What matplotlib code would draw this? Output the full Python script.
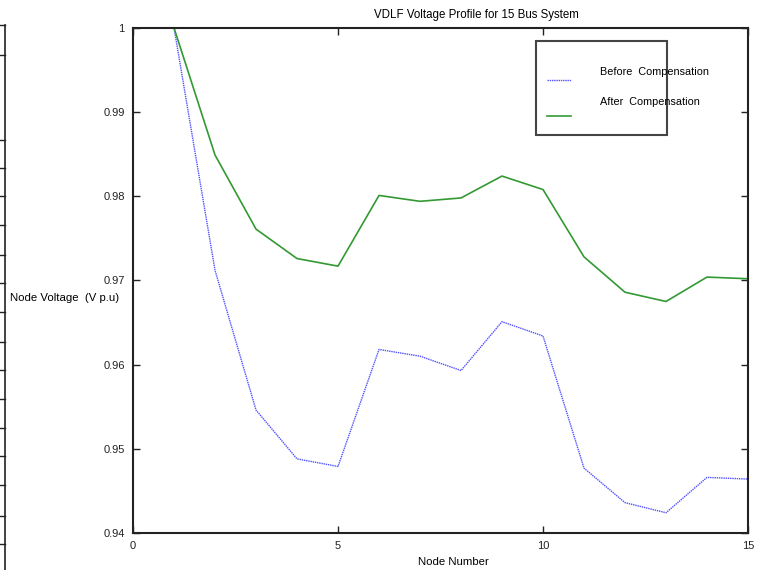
import matplotlib.pyplot as plt
from matplotlib.lines import Line2D
from matplotlib.patches import Rectangle

plt.rcParams['font.family'] = ['Liberation Sans', 'DejaVu Sans']

nodes = list(range(1, 16))
before = [1.0, 0.9712, 0.9546, 0.9488, 0.9479, 0.9618, 0.9610, 0.9593,
          0.9651, 0.9634, 0.9477, 0.9436, 0.9424, 0.9466, 0.9464]
after = [1.0, 0.9849, 0.9761, 0.9726, 0.9717, 0.9801, 0.9794, 0.9798,
         0.9824, 0.9808, 0.9728, 0.9686, 0.9675, 0.9704, 0.9702]
xticks = [0, 5, 10, 15]
yticks = [0.94, 0.95, 0.96, 0.97, 0.98, 0.99, 1.0]
ytick_labels = ["0.94", "0.95", "0.96", "0.97", "0.98", "0.99", "1"]

fig = plt.figure(figsize=(7.58, 5.70), dpi=100)
ax = fig.add_axes([0.1755, 0.065, 0.8113, 0.886])

ax.plot(nodes, before, color="#5050ff", linestyle=(0, (1, 0.6)), linewidth=1.0)
ax.plot(nodes, after, color="#339933", linestyle="-", linewidth=1.2)

ax.set_xlim(0, 15)
ax.set_ylim(0.94, 1.0)
ax.set_xticks(xticks)
ax.set_yticks(yticks)
ax.set_yticklabels(ytick_labels)
ax.tick_params(direction="in", length=5, width=1, top=True, right=True,
               labelsize=8, pad=6, colors="#222222")
for s in ax.spines.values():
    s.set_linewidth(1.5)
    s.set_color("#222222")

fig.text(0.629, 0.973, "VDLF Voltage Profile for 15 Bus System", ha="center",
         va="center", fontsize=8.3)
fig.text(0.598, 0.014, "Node Number", ha="center", va="center", fontsize=8.2)
fig.text(0.013, 0.477, "Node Voltage  (V p.u)", ha="left", va="center", fontsize=8.2)

# legend box drawn by hand (handles sit below the labels in the original)
ax.add_patch(Rectangle((0.655, 0.788), 0.213, 0.187, transform=ax.transAxes,
                       fill=False, edgecolor="#444444", linewidth=1.5))
ax.add_line(Line2D([0.673, 0.713], [0.897, 0.897], transform=ax.transAxes,
                   color="#5050ff", linestyle=(0, (1, 0.6)), linewidth=1.0))
ax.add_line(Line2D([0.673, 0.713], [0.826, 0.826], transform=ax.transAxes,
                   color="#339933", linewidth=1.2))
ax.text(0.760, 0.912, "Before  Compensation", transform=ax.transAxes,
        fontsize=7.8, va="center")
ax.text(0.760, 0.853, "After  Compensation", transform=ax.transAxes,
        fontsize=7.8, va="center")

# edge of a neighbouring frame cut off at the left of the original picture
fig.add_artist(Line2D([0.0066, 0.0066], [0.0, 0.956], color="#222222", linewidth=1.2))
for fy in [0.956, 0.903, 0.754, 0.705, 0.656, 0.605, 0.553, 0.504, 0.453,
           0.400, 0.351, 0.300, 0.249, 0.200, 0.149, 0.095, 0.046]:
    fig.add_artist(Line2D([0.0, 0.0066], [fy, fy], color="#222222", linewidth=1.0))

fig.savefig("out.png", dpi=100)
